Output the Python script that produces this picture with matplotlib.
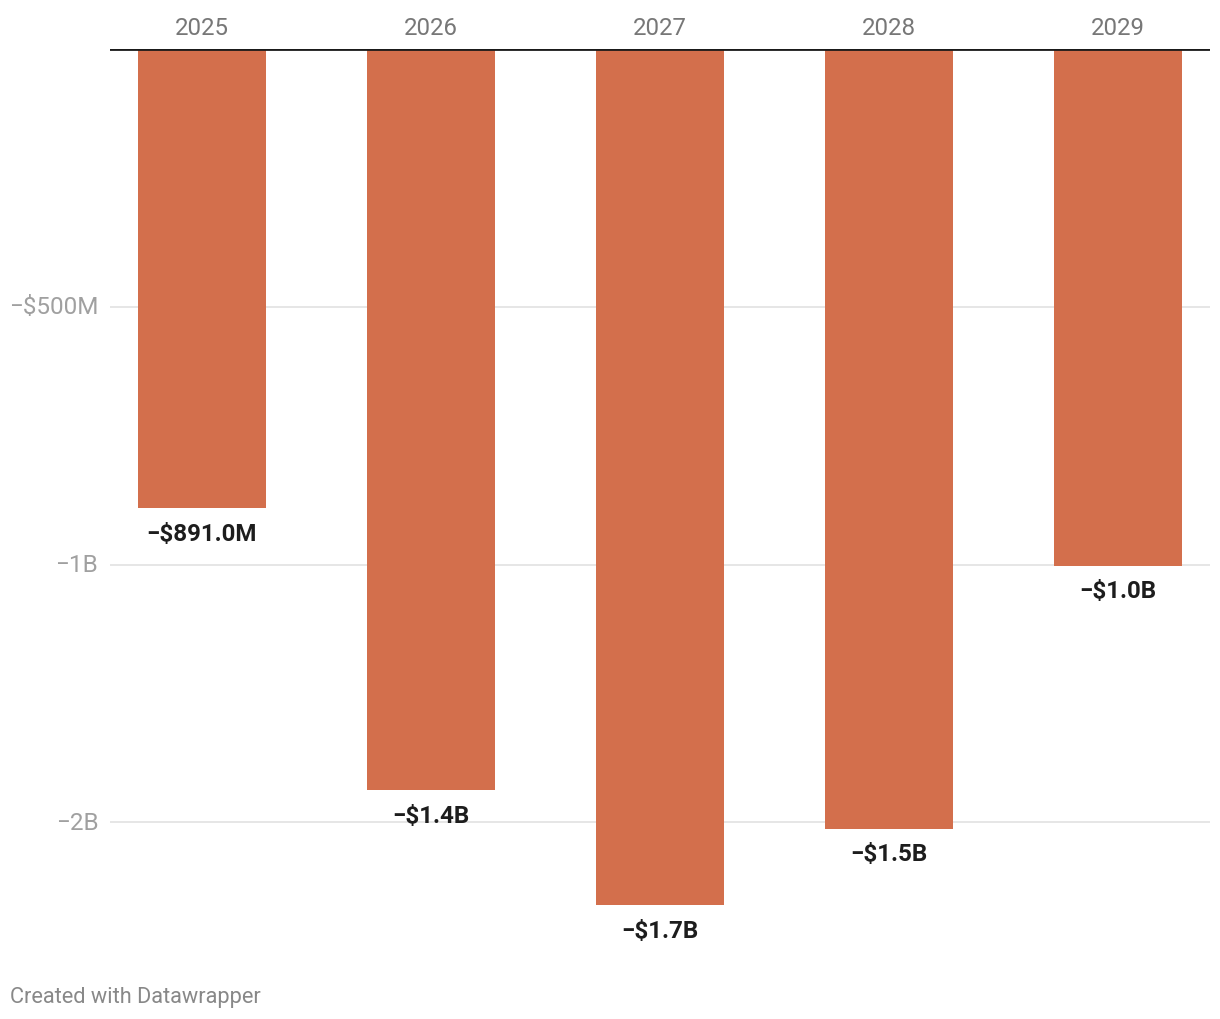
import matplotlib.pyplot as plt

# ---------------------------------------------------------------
# data (millions of dollars)
# ---------------------------------------------------------------
years = ["2025", "2026", "2027", "2028", "2029"]
values = [-891.0, -1438, -1661, -1512, -1002]
value_labels = ["−$891.0M", "−$1.4B", "−$1.7B", "−$1.5B", "−$1.0B"]
tick_values = [-500, -1000, -1500]
tick_labels = ["−$500M", "−1B", "−2B"]

plt.rcParams["font.family"] = ["Roboto", "DejaVu Sans"]

fig = plt.figure(figsize=(12.2, 10.2), dpi=100)
ax = fig.add_axes([110 / 1220, 1 - 978 / 1020, 1100 / 1220, 928 / 1020])

x = list(range(len(years)))
ax.bar(x, values, width=0.559, color="#d36f4c", zorder=3)

ax.set_xlim(-0.4017, 4.4017)
ax.set_ylim(-1800, 0)

# gridlines and zero line
for t in tick_values:
    ax.axhline(t, color="#e2e2e2", lw=1.2, zorder=1)
ax.axhline(0, color="#1a1a1a", lw=2, zorder=4)

ax.set_yticks(tick_values)
ax.set_yticklabels(tick_labels, color="#a0a0a0", fontsize=17.5, va="center")
ax.tick_params(axis="y", length=0, pad=8.5)

ax.xaxis.tick_top()
ax.set_xticks(x)
ax.set_xticklabels(years, color="#777777", fontsize=17.3)
ax.tick_params(axis="x", length=0, pad=7.2)

for s in ax.spines.values():
    s.set_visible(False)

# value labels under the bars
for xi, v, lab in zip(x, values, value_labels):
    ax.annotate(lab, (xi, v), xytext=(0, -25), textcoords="offset pixels",
                ha="center", va="center", fontsize=17.4, fontweight="bold",
                color="#1d1d1d", zorder=5)

fig.text(10 / 1220, 1 - 998 / 1020, "Created with Datawrapper",
         color="#888888", fontsize=15.7, ha="left", va="center")

fig.savefig("out.png", dpi=100, facecolor="white")
